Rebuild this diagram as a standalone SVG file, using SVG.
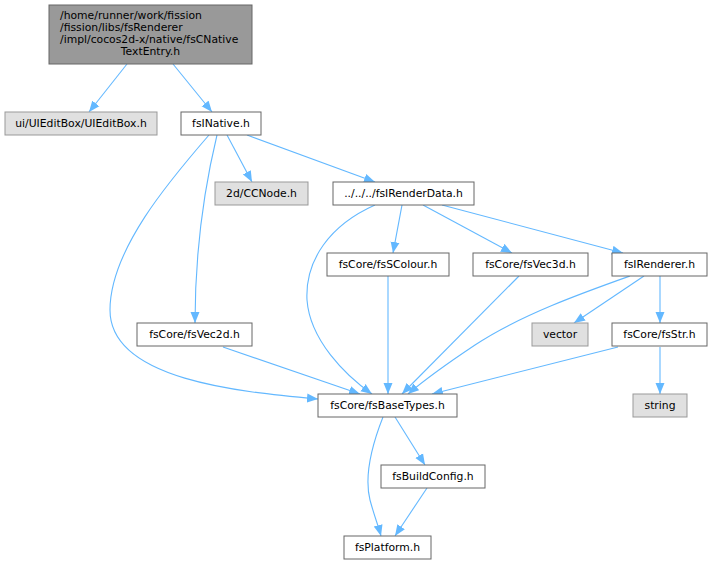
<svg xmlns="http://www.w3.org/2000/svg" width="713" height="564" viewBox="0 0 713 564">
<style>
  .n rect { fill: #ffffff; stroke: #666666; stroke-width: 1; }
  .g rect { fill: #e0e0e0; stroke: #999999; stroke-width: 1; }
  .m rect { fill: #999999; stroke: #666666; stroke-width: 1; }
  text { font-family: "DejaVu Sans", "Liberation Sans", sans-serif; font-size: 10.8px; fill: #000000; }
  .c { text-anchor: middle; }
  #edges path { fill: none; stroke: #63b8ff; stroke-width: 1.1; marker-end: url(#arr); }
</style>
<defs>
  <marker id="arr" markerUnits="userSpaceOnUse" markerWidth="11" markerHeight="10" refX="11" refY="5" orient="auto" viewBox="0 0 11 10">
    <path d="M0,0.5 L11,5 L0,9.5 z" fill="#63b8ff" stroke="none"/>
  </marker>
</defs>
<rect width="713" height="564" fill="#ffffff"/>
<g id="edges">
  <path d="M127,64 L89,112"/>
  <path d="M173,64 L212,112"/>
  <path d="M209,135 C170,180 110,250 110,310 C110,380 240,392 318,399"/>
  <path d="M217,135 C205,185 195,250 195,323"/>
  <path d="M227,135 L252,182"/>
  <path d="M247,135 L375,182"/>
  <path d="M375,205 C330,225 305,260 307,300 C310,340 345,375 372,394"/>
  <path d="M402,205 L393,253"/>
  <path d="M423,205 L512,253"/>
  <path d="M442,205 L623,253"/>
  <path d="M388,276 L388,394"/>
  <path d="M519,276 L402,394"/>
  <path d="M630,276 C585,292 520,315 475,345 C445,365 422,382 408,394"/>
  <path d="M644,276 L574,323"/>
  <path d="M660,276 L660,323"/>
  <path d="M223,347 L360,394"/>
  <path d="M618,347 L432,394"/>
  <path d="M660,347 L660,394"/>
  <path d="M395,417 L425,465"/>
  <path d="M383,417 C370,450 365,480 370,500 C374,515 378,525 381,536"/>
  <path d="M427,488 L395,536"/>
</g>
<g id="node_main" class="m">
  <rect x="49" y="5" width="203" height="59"/>
  <text x="60" y="19">/home/runner/work/fission</text>
  <text x="60" y="31">/fission/libs/fsRenderer</text>
  <text x="60" y="43">/impl/cocos2d-x/native/fsCNative</text>
  <text x="150.5" y="55" class="c">TextEntry.h</text>
</g>
<g id="node_uieditbox" class="g">
  <rect x="5" y="112" width="152" height="23"/>
  <text x="81" y="127" class="c">ui/UIEditBox/UIEditBox.h</text>
</g>
<g id="node_fsinative" class="n">
  <rect x="181" y="112" width="80" height="23"/>
  <text x="221" y="127" class="c">fsINative.h</text>
</g>
<g id="node_ccnode" class="g">
  <rect x="215" y="182" width="93" height="23"/>
  <text x="261.5" y="197" class="c">2d/CCNode.h</text>
</g>
<g id="node_fsirenderdata" class="n">
  <rect x="333" y="182" width="141" height="23"/>
  <text x="403.5" y="197" class="c">../../../fsIRenderData.h</text>
</g>
<g id="node_fsscolour" class="n">
  <rect x="327" y="253" width="122" height="23"/>
  <text x="388" y="268" class="c">fsCore/fsSColour.h</text>
</g>
<g id="node_fsvec3d" class="n">
  <rect x="473" y="253" width="115" height="23"/>
  <text x="530.5" y="268" class="c">fsCore/fsVec3d.h</text>
</g>
<g id="node_fsirenderer" class="n">
  <rect x="612" y="253" width="95" height="23"/>
  <text x="659.5" y="268" class="c">fsIRenderer.h</text>
</g>
<g id="node_fsvec2d" class="n">
  <rect x="137" y="323" width="115" height="23"/>
  <text x="194.5" y="338" class="c">fsCore/fsVec2d.h</text>
</g>
<g id="node_vector" class="g">
  <rect x="532" y="323" width="56" height="23"/>
  <text x="560" y="338" class="c">vector</text>
</g>
<g id="node_fsstr" class="n">
  <rect x="612" y="323" width="95" height="23"/>
  <text x="659.5" y="338" class="c">fsCore/fsStr.h</text>
</g>
<g id="node_fsbasetypes" class="n">
  <rect x="318" y="394" width="139" height="23"/>
  <text x="387.5" y="409" class="c">fsCore/fsBaseTypes.h</text>
</g>
<g id="node_string" class="g">
  <rect x="633" y="394" width="54" height="23"/>
  <text x="660" y="409" class="c">string</text>
</g>
<g id="node_fsbuildconfig" class="n">
  <rect x="381" y="465" width="104" height="23"/>
  <text x="433" y="480" class="c">fsBuildConfig.h</text>
</g>
<g id="node_fsplatform" class="n">
  <rect x="344" y="536" width="87" height="23"/>
  <text x="387.5" y="551" class="c">fsPlatform.h</text>
</g>
</svg>
